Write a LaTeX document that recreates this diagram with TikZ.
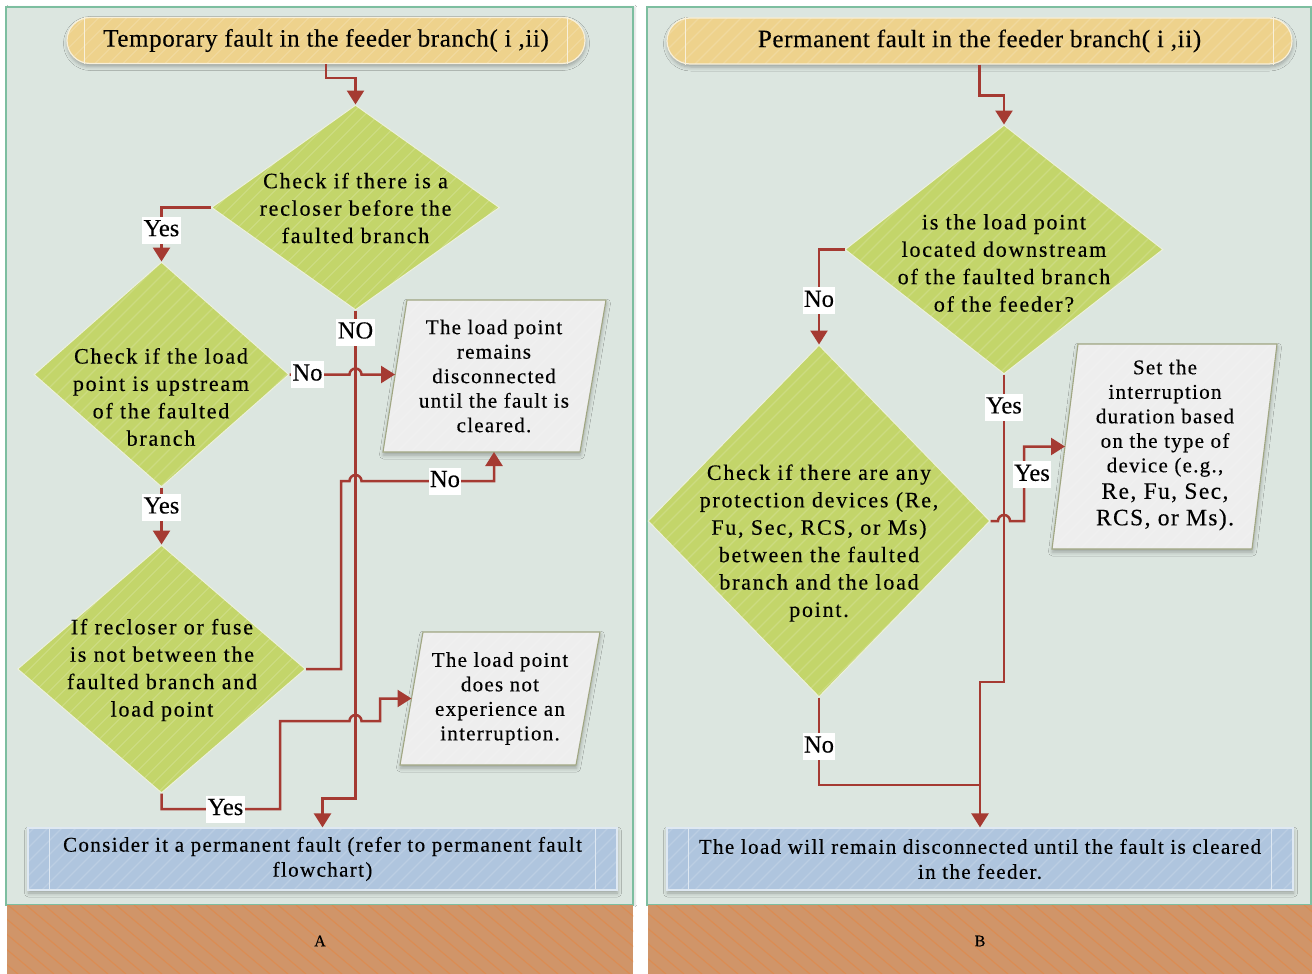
\documentclass[tikz,border=0pt]{standalone}
\usepackage{fontspec}
\setmainfont[FakeBold=0.3]{Liberation Serif}
\newfontfamily\plainfont[FakeBold=0.3]{Liberation Serif}
\newfontfamily\headfont[LetterSpace=2.5,FakeBold=0.3]{Liberation Serif}
\newfontfamily\askfont[LetterSpace=8,FakeBold=0.3]{Liberation Serif}
\newfontfamily\notefont[LetterSpace=6,FakeBold=0.3]{Liberation Serif}
\newfontfamily\endfont[LetterSpace=6.5,FakeBold=0.3]{Liberation Serif}
\usetikzlibrary{shapes.geometric,arrows.meta,calc,shadows.blur}

\definecolor{panelbg}{RGB}{220,230,224}
\definecolor{panelline}{RGB}{125,190,160}
\definecolor{bandfill}{RGB}{208,149,105}
\definecolor{bandhatch}{RGB}{220,140,82}
\definecolor{termfill}{RGB}{238,210,140}
\definecolor{termedge}{RGB}{248,240,218}
\definecolor{decfill}{RGB}{195,213,106}
\definecolor{decedge}{RGB}{236,240,222}
\definecolor{outfill}{RGB}{238,238,238}
\definecolor{outedge}{RGB}{160,166,130}
\definecolor{endfill}{RGB}{175,197,222}
\definecolor{endedge}{RGB}{222,232,242}
\definecolor{flow}{RGB}{165,58,50}

\tikzset{
  sheen/.style={path picture={
      \foreach \k in {-420,-406,...,700}
        \draw[white,opacity=0.16,line width=1.2pt]
          ($(path picture bounding box.south west)+(\k*1pt,0)$) -- ++(420pt,420pt);}},
  softshadow/.style={blur shadow={shadow xshift=0.5pt,shadow yshift=-3pt,
      shadow blur radius=4pt,shadow opacity=30}},
  panel/.style={fill=panelbg,draw=panelline,line width=1.5pt},
  term/.style={rectangle,rounded corners=23pt,fill=termfill,draw=termedge,
      line width=1.2pt,minimum height=46pt,inner sep=0pt,sheen,softshadow,
      font=\headfont\fontsize{25}{30}\selectfont},
  dec/.style={diamond,fill=decfill,draw=decedge,line width=1pt,inner sep=0pt,sheen},
  dectext/.style={align=center,inner sep=0pt,
      font=\askfont\fontsize{22}{27.4}\selectfont},
  outshape/.style={fill=outfill,draw=outedge,line width=1.1pt,sheen,softshadow},
  outtext/.style={align=center,inner sep=0pt,
      font=\notefont\fontsize{21}{24.5}\selectfont},
  endbox/.style={rectangle,fill=endfill,draw=endedge,line width=1.2pt,
      minimum height=62pt,inner sep=0pt,align=center,sheen,softshadow,
      font=\endfont\fontsize{21}{25}\selectfont},
  rib/.style={draw=endedge,line width=1.2pt},
  flowline/.style={draw=flow,line width=2.5pt},
  arr/.style={flowline,-{Triangle[length=14pt,width=17pt]}},
  lab/.style={fill=white,inner xsep=1.5pt,inner ysep=2.5pt,text height=17pt,
      text depth=5pt,font=\plainfont\fontsize{24.5}{25}\selectfont},
  tag/.style={font=\plainfont\fontsize{16}{16}\selectfont},
}

\begin{document}
\begin{tikzpicture}[x=1pt,y=-1pt]
\useasboundingbox (0,0) rectangle (1312,974);
\fill[white] (0,0) rectangle (1312,974);

% ---------- panels and hatched caption bands ----------
\path[panel,blur shadow={shadow xshift=2pt,shadow yshift=0pt,shadow opacity=15}] (6,7) rectangle (633,905);
\path[panel] (647,7) rectangle (1311,905);
\fill[bandfill] (7,905) rectangle (633,974);
\fill[bandfill] (648,905) rectangle (1312,974);
\begin{scope}
  \clip (7,905) rectangle (633,974) (648,905) rectangle (1312,974);
  \foreach \k in {-100,-82,...,1320}
    \draw[bandhatch,line width=1.1pt] (\k,905) -- ++(82,69);
\end{scope}
\node[tag] (capA) at (320,941) {A};
\node[tag] (capB) at (980,941) {B};

% ---------- A: temporary fault ----------
\node[term,minimum width=518pt] (t1) at (326,40.5) {Temporary fault in the feeder branch( i ,ii)};
\draw[termedge,line width=1.2pt]
  ([xshift=18pt]t1.north west) -- ([xshift=18pt]t1.south west)
  ([xshift=-18pt]t1.north east) -- ([xshift=-18pt]t1.south east);

\node[dec,minimum width=288pt,minimum height=205pt] (d1) at (355.5,207.5) {};
\node[dectext] (d1t) at (355.5,208) {Check if there is a\\recloser before the\\faulted branch};

\node[dec,minimum width=255pt,minimum height=225pt] (d2) at (161.5,374.5) {};
\node[dectext] (d2t) at (161,397) {Check if the load\\point is upstream\\of the faulted\\branch};

\node[dec,minimum width=288pt,minimum height=248pt] (d3) at (161.5,669) {};
\node[dectext] (d3t) at (162,670) {If recloser or fuse\\is not between the\\faulted branch and\\load point};

\path[outshape] (383,452) coordinate (p1a) -- (580,452) coordinate (p1b)
  -- (606,300) coordinate (p1c) -- (407,300) coordinate (p1d) -- cycle;
\node[outtext] (p1) at (494,376) {The load point\\remains\\disconnected\\until the fault is\\cleared.};
\coordinate (p1w) at ($(p1a)!0.5!(p1d)$);
\coordinate (p1s) at (494,452);

\path[outshape] (400,765) coordinate (p2a) -- (576,765) coordinate (p2b)
  -- (600,632) coordinate (p2c) -- (423,632) coordinate (p2d) -- cycle;
\node[outtext] (p2) at (500,698.5) {The load point\\does not\\experience an\\interruption.};
\coordinate (p2w) at ($(p2a)!0.5!(p2d)$);

\node[endbox,minimum width=589pt] (b1) at (322.5,859) {Consider it a permanent fault (refer to permanent fault\\flowchart)};
\draw[rib] ([xshift=22pt]b1.north west) -- ([xshift=22pt]b1.south west)
  ([xshift=-22pt]b1.north east) -- ([xshift=-22pt]b1.south east);

% connectors of A
\draw[arr] (t1.south) -- ++(0,14) -| (d1.north);
\draw[arr] (d1.west) -| node[lab,pos=0.71]{Yes} (d2.north);
\draw[arr] (d2.east) -- node[lab,pos=0.3]{No} ($(d2.east -| d1.south)+(-6,0)$)
  arc[start angle=180,end angle=0,radius=6pt] -- (d2.east -| p1w);
\draw[arr] (d1.south) -- node[lab,pos=0.045]{NO} ($(d1.south)+(0,488)$) -| (b1.north);
\draw[arr] (d2.south) -- node[lab,pos=0.35]{Yes} (d3.north);
\draw[arr] (d3.east) -- (341,669) -- (341,481) -- (349.5,481)
  arc[start angle=180,end angle=0,radius=6pt]
  -- node[lab,pos=0.63]{No} (494,481) -- (p1s);
\draw[arr] (d3.south) -- (161.5,809) -- node[lab,pos=0.54]{Yes} (280,809)
  -- (280,721) -- (349.5,721) arc[start angle=180,end angle=0,radius=6pt]
  -- (380,721) -- (380,698.5) -- (p2w);

% ---------- B: permanent fault ----------
\node[term,minimum width=625pt] (t2) at (979.5,41) {Permanent fault in the feeder branch( i ,ii)};
\draw[termedge,line width=1.2pt]
  ([xshift=19pt]t2.north west) -- ([xshift=19pt]t2.south west)
  ([xshift=-19pt]t2.north east) -- ([xshift=-19pt]t2.south east);

\node[dec,minimum width=318pt,minimum height=249pt] (d4) at (1004,249.5) {};
\node[dectext] (d4t) at (1004,263) {is the load point\\located downstream\\of the faulted branch\\of the feeder?};

\node[dec,minimum width=342pt,minimum height=352pt] (d5) at (819,521) {};
\node[dectext] (d5t) at (819,543) {Check if there are any\\protection devices (Re,\\Fu, Sec, RCS, or Ms)\\between the faulted\\branch and the load\\point.};

\path[outshape] (1052,549) coordinate (p3a) -- (1252,549) coordinate (p3b)
  -- (1277,344) coordinate (p3c) -- (1078,344) coordinate (p3d) -- cycle;
\node[outtext] (p3) at (1165,445) {Set the\\interruption\\duration based\\on the type of\\device (e.g.,\\[2pt]
  {\fontsize{23.5}{27}\selectfont Re, Fu, Sec,}\\[2pt]
  {\fontsize{23.5}{27}\selectfont RCS, or Ms).}};
\coordinate (p3w) at ($(p3a)!0.5!(p3d)$);

\node[endbox,minimum width=626pt] (b2) at (980,859) {The load will remain disconnected until the fault is cleared\\in the feeder.};
\draw[rib] ([xshift=22pt]b2.north west) -- ([xshift=22pt]b2.south west)
  ([xshift=-22pt]b2.north east) -- ([xshift=-22pt]b2.south east);

% connectors of B
\draw[arr] (t2.south) -- ++(0,31) -| (d4.north);
\draw[arr] (d4.west) -| node[lab,pos=0.77]{No} (d5.north);
\draw[arr] (d4.south) -- node[lab,pos=0.107]{Yes} (1004,682) -- (980,682) -- (b2.north);
\coordinate (merge) at (980,785);
\draw[flowline] (d5.south) -- node[lab,pos=0.56]{No} (819,785) -- (merge);
\draw[arr] (d5.east) -- (998,521) arc[start angle=180,end angle=0,radius=6pt]
  -- (1024,521) -- node[lab,pos=0.62,xshift=8pt]{Yes} (1024,446.5) -- (p3w);
\end{tikzpicture}
\end{document}
